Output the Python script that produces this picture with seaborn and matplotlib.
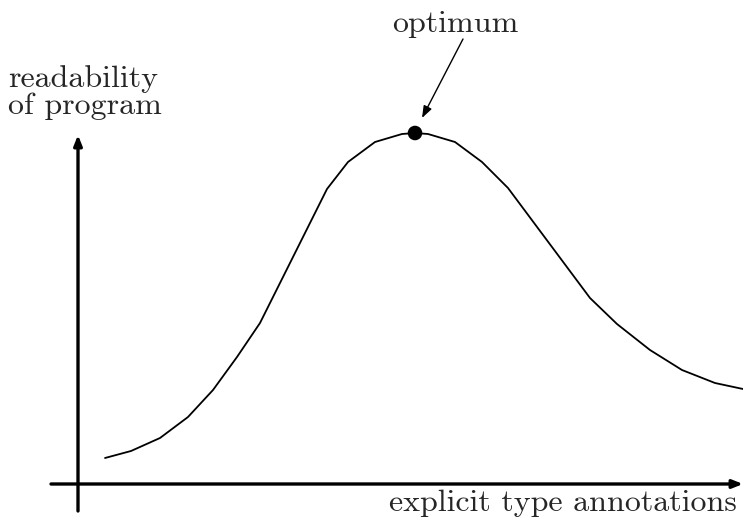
import matplotlib
matplotlib.use("Agg")
import matplotlib.pyplot as plt
import seaborn as sns
import pandas as pd

# curve (x = amount of explicit annotations, y = readability)
annotations = [2.7, 5.3, 8.2, 11.0, 13.5, 15.9, 18.2, 24.9, 27.0, 29.7,
               32.4, 33.7, 35.0, 37.7, 40.4, 43.0, 51.2, 53.9, 57.2, 60.4,
               63.7, 66.5]
readability = [2.6, 3.3, 4.6, 6.7, 9.4, 12.7, 16.1, 29.5, 32.2, 34.2,
               35.0, 35.1, 35.0, 34.2, 32.2, 29.6, 18.6, 16.0, 13.4, 11.4,
               10.1, 9.5]
optimum_x = [33.7]
optimum_y = [35.1]

df = pd.DataFrame({"x": annotations, "y": readability})
opt = pd.DataFrame({"x": optimum_x, "y": optimum_y})

sns.set_theme(style="white")
FONT = "cmr10"
FS = 23

fig = plt.figure(figsize=(7.43, 5.23), dpi=100)
ax = fig.add_axes([0, 0, 1, 1])
ax.set_xlim(-7.8, 66.5)
ax.set_ylim(-3.9, 48.4)
ax.axis("off")

# axes drawn as arrows
axis_arrow = dict(arrowstyle="-|>,head_length=0.5,head_width=0.2",
                  color="black", lw=2.4, shrinkA=0, shrinkB=0)
ax.annotate("", xy=(66.5, 0), xytext=(-2.7, 0), arrowprops=axis_arrow)
ax.annotate("", xy=(0, 34.9), xytext=(0, -2.7), arrowprops=axis_arrow)

sns.lineplot(data=df, x="x", y="y", ax=ax, color="black", lw=1.3,
             sort=False, estimator=None)
sns.scatterplot(data=opt, x="x", y="y", ax=ax, color="black", s=110,
                edgecolor="none", zorder=5)

# optimum label + pointer
ax.text(37.7, 45.2, "optimum", ha="center", va="baseline", fontsize=FS,
        family=FONT)
ax.annotate("", xy=(34.4, 36.6), xytext=(38.5, 44.5),
            arrowprops=dict(arrowstyle="-|>,head_length=0.6,head_width=0.22",
                            color="black", lw=1.0, shrinkA=0, shrinkB=0))

ax.text(-7.0, 39.7, "readability", fontsize=FS, family=FONT, va="baseline")
ax.text(-7.0, 37.0, "of program", fontsize=FS, family=FONT, va="baseline")
ax.text(65.9, -2.7, "explicit type annotations", fontsize=FS, family=FONT,
        ha="right", va="baseline")

ax.set_xlabel("")
ax.set_ylabel("")
fig.savefig("out.png", dpi=100, facecolor="white")
